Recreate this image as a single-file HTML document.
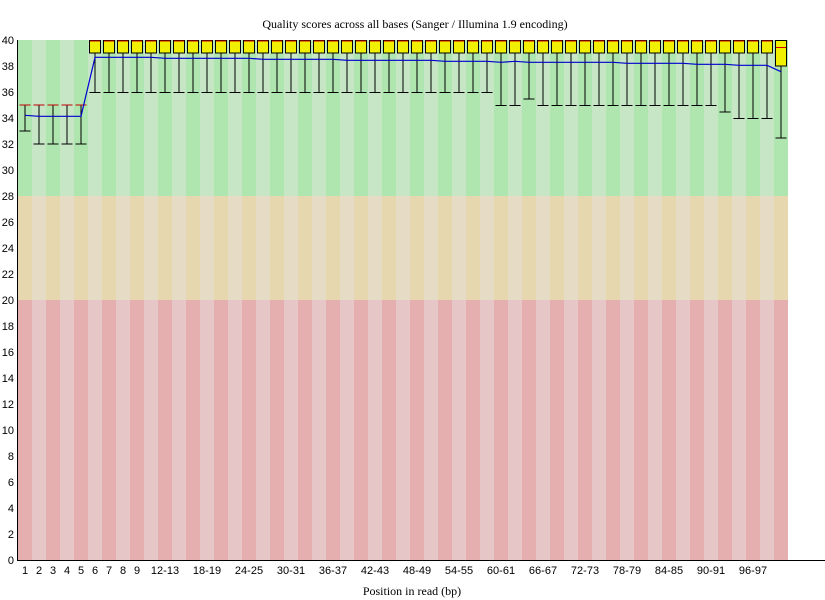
<!DOCTYPE html>
<html><head><meta charset="utf-8"><style>body{margin:0;background:#fff}svg{display:block}</style></head>
<body>
<svg id="s" width="825" height="600" xmlns="http://www.w3.org/2000/svg" font-family="Liberation Sans, sans-serif" font-size="11">
</svg>
<script>
const s=document.getElementById('s');let h='';
const Y=q=>560-13*q;
for(let i=0;i<55;i++){const x=18+14*i,d=i%2==0;
h+=`<rect x="${x}" y="40" width="14" height="156" fill="${d?'#afe6af':'#c6e6c6'}"/>`;
h+=`<rect x="${x}" y="196" width="14" height="104" fill="${d?'#e6d7af':'#e6dcc6'}"/>`;
h+=`<rect x="${x}" y="300" width="14" height="260" fill="${d?'#e6afaf':'#e6c6c6'}"/>`;}
// data: [lowWhisker, boxLow, median, boxHigh, upWhisker]
const low=[];for(let i=0;i<55;i++){let l;
if(i==0)l=33;else if(i<5)l=32;else if(i<34)l=36;else if(i==36)l=35.5;else if(i<50)l=35;else if(i==50)l=34.5;else if(i<54)l=34;else l=32.5;low.push(l);}
for(let i=0;i<55;i++){const c=25+14*i;
if(i<5){h+=`<line x1="${c}" y1="${Y(35)}" x2="${c}" y2="${Y(low[i])}" stroke="#000"/>`;
h+=`<line x1="${c-5.5}" y1="${Y(low[i])}" x2="${c+5.5}" y2="${Y(low[i])}" stroke="#000"/>`;
h+=`<line x1="${c-5.5}" y1="${Y(35)}" x2="${c+5.5}" y2="${Y(35)}" stroke="#c00000"/>`;continue;}
const bl=i==54?38:39;
h+=`<line x1="${c}" y1="${Y(bl)}" x2="${c}" y2="${Y(low[i])}" stroke="#000"/>`;
h+=`<line x1="${c-5.5}" y1="${Y(low[i])+.5}" x2="${c+5.5}" y2="${Y(low[i])+.5}" stroke="#000"/>`;
h+=`<rect x="${c-5.5}" y="40.5" width="11" height="${Y(bl)-40.5}" fill="#f0f000" stroke="#000"/>`;
const m=i==54?39.5:40;h+=`<line x1="${c-5}" y1="${Y(m)+1}" x2="${c+5}" y2="${Y(m)+1}" stroke="#d00000"/>`;}
const mv=i=>i==0?115.3:i<5?116.3:i<10?57.3:i<17?58.3:i<23?59.3:i<30?60.3:i<34?61.3:i==34?62.3:i==35?61.3:i<43?62.3:i<48?63.3:i<51?64.3:i<54?65.3:71.7;
let p=[];for(let i=0;i<55;i++)p.push((25+14*i)+','+mv(i));
h+=`<polyline points="${p.join(' ')}" fill="none" stroke="#0000d0" stroke-width="1.2"/>`;
h+=`<line x1="17.5" y1="40" x2="17.5" y2="560" stroke="#000"/><line x1="17" y1="560.5" x2="825" y2="560.5" stroke="#000"/>`;
for(let q=0;q<=40;q+=2)h+=`<text x="14" y="${Y(q)+4}" text-anchor="end">${q}</text>`;
const lab=[];for(let i=0;i<9;i++)lab.push([i,''+(i+1)]);
for(let i=10;i<=52;i+=3){const a=10+2*(i-9);lab.push([i,a+'-'+(a+1)]);}
for(const [i,t] of lab)h+=`<text x="${25+14*i}" y="574" text-anchor="middle">${t}</text>`;
h+=`<text x="415" y="28" text-anchor="middle" font-family="Liberation Serif, serif" font-size="12">Quality scores across all bases (Sanger / Illumina 1.9 encoding)</text>`;
h+=`<text x="412" y="595" text-anchor="middle" font-family="Liberation Serif, serif" font-size="12">Position in read (bp)</text>`;
s.innerHTML=h;
</script>
</body></html>
